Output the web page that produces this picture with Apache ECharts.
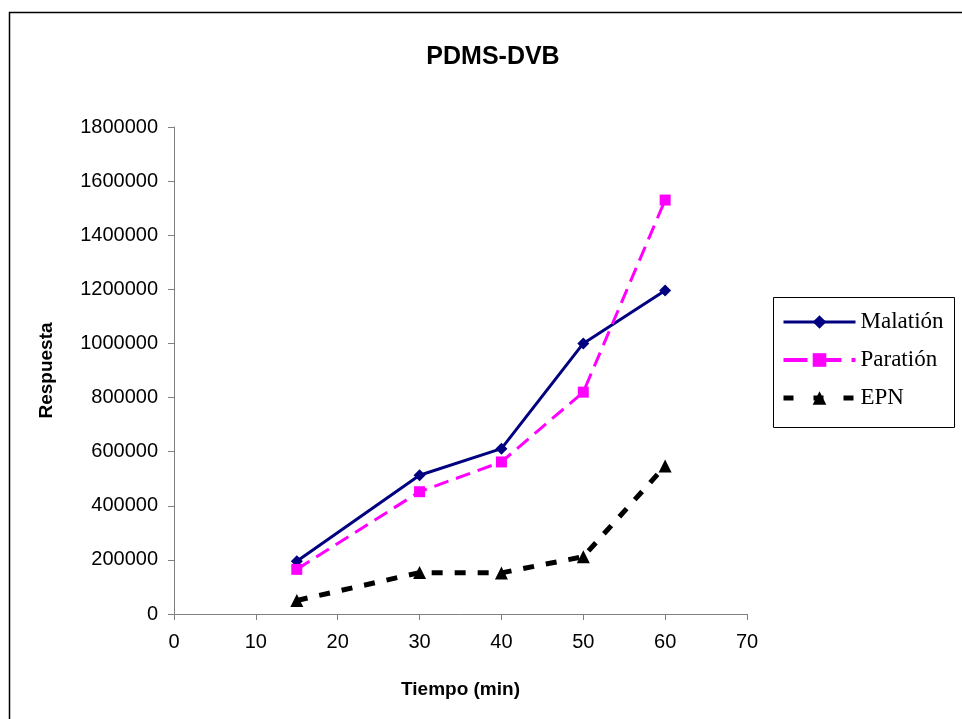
<!DOCTYPE html>
<html>
<head>
<meta charset="utf-8">
<script src="https://cdn.jsdelivr.net/npm/echarts@6/dist/echarts.min.js"></script>
<style>html,body{margin:0;padding:0;background:#fff}#c{width:962px;height:719px}</style>
</head>
<body>
<div id="c"></div>
<script>
var tiempo = [15, 30, 40, 50, 60];
var malation = [195000, 513000, 611000, 1000000, 1196000];
var paration = [165000, 452000, 562000, 820000, 1530000];
var epn = [50000, 153000, 152000, 212000, 547000];
var seriesNames = ['Malatión', 'Paratión', 'EPN'];

function pairs(xs, ys) { return xs.map(function (x, i) { return [x, ys[i]]; }); }

var chart = echarts.init(document.getElementById('c'));
chart.setOption({
  backgroundColor: '#fff',
  animation: false,
  title: {
    text: 'PDMS-DVB', left: 488, top: 40, textAlign: 'center',
    textStyle: { fontFamily: 'Arial, Liberation Sans', fontSize: 25, fontWeight: 'bold', color: '#000' }
  },
  graphic: [
    { type: 'rect', shape: { x: 9.5, y: 12.5, width: 970, height: 730 }, style: { fill: null, stroke: '#000', lineWidth: 1.5 }, silent: true },
    { type: 'rect', shape: { x: 773.5, y: 297.5, width: 181, height: 130 }, style: { fill: null, stroke: '#000', lineWidth: 1 }, silent: true }
  ],
  legend: {
    orient: 'vertical', left: 781, top: 310, padding: 0, itemGap: 14,
    itemWidth: 72, itemHeight: 17, itemTextGap: 5,
    data: [
      { name: seriesNames[0], lineStyle: { width: 3, color: '#000080' } },
      { name: seriesNames[1], lineStyle: { width: 4, color: '#FF00FF', type: [24, 10] } },
      { name: seriesNames[2], lineStyle: { width: 5, color: '#000', type: [10, 20] } }
    ],
    textStyle: { fontFamily: 'Liberation Serif, Times New Roman', fontSize: 23, color: '#000', lineHeight: 24 }
  },
  grid: { left: 174, right: 215, top: 127, bottom: 105, containLabel: false },
  xAxis: {
    type: 'value', min: 0, max: 70, interval: 10,
    name: 'Tiempo (min)', nameLocation: 'middle', nameGap: 66,
    nameTextStyle: { fontFamily: 'Arial, Liberation Sans', fontSize: 19, fontWeight: 'bold', color: '#000' },
    axisLine: { show: true, lineStyle: { color: '#808080', width: 1 } },
    axisTick: { show: true, inside: false, length: 6, lineStyle: { color: '#808080' } },
    axisLabel: { margin: 18, fontFamily: 'Arial, Liberation Sans', fontSize: 20, color: '#000' },
    splitLine: { show: false }
  },
  yAxis: {
    type: 'value', min: 0, max: 1800000, interval: 200000,
    name: 'Respuesta', nameLocation: 'middle', nameGap: 118, nameRotate: 90,
    nameTextStyle: { fontFamily: 'Arial, Liberation Sans', fontSize: 19, fontWeight: 'bold', color: '#000' },
    axisLine: { show: true, lineStyle: { color: '#808080', width: 1 } },
    axisTick: { show: true, inside: false, length: 6, lineStyle: { color: '#808080' } },
    axisLabel: { margin: 16, fontFamily: 'Arial, Liberation Sans', fontSize: 20, color: '#000',
      formatter: function (v) { return String(v); } },
    splitLine: { show: false }
  },
  series: [
    {
      name: seriesNames[0], type: 'line', data: pairs(tiempo, malation),
      symbol: 'diamond', symbolSize: 12, showAllSymbol: true,
      lineStyle: { color: '#000080', width: 3 },
      itemStyle: { color: '#000080' }
    },
    {
      name: seriesNames[1], type: 'line', data: pairs(tiempo, paration),
      symbol: 'rect', symbolSize: 11,
      lineStyle: { color: '#FF00FF', width: 3, type: [15, 8] },
      itemStyle: { color: '#FF00FF' }
    },
    {
      name: seriesNames[2], type: 'line', data: pairs(tiempo, epn),
      symbol: 'triangle', symbolSize: 13,
      lineStyle: { color: '#000', width: 5, type: [11, 12] },
      itemStyle: { color: '#000' }
    }
  ]
});
</script>
</body>
</html>
